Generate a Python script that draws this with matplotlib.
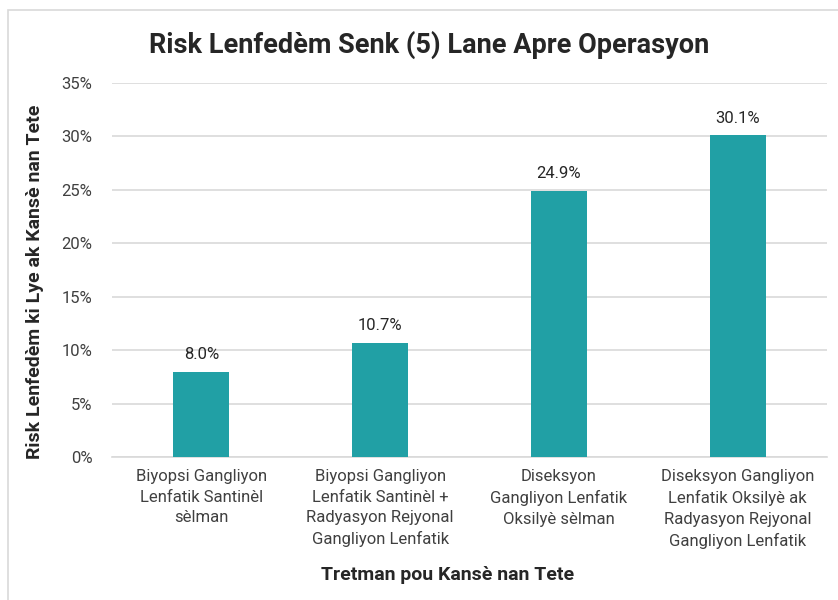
import matplotlib.pyplot as plt
from matplotlib.patches import Rectangle
from matplotlib.ticker import FuncFormatter, MultipleLocator

plt.rcParams["font.family"] = ["Roboto", "DejaVu Sans"]

categories = [
    "Biyopsi Gangliyon\nLenfatik Santinèl\nsèlman",
    "Biyopsi Gangliyon\nLenfatik Santinèl +\nRadyasyon Rejyonal\nGangliyon Lenfatik",
    "Diseksyon\nGangliyon Lenfatik\nOksilyè sèlman",
    "Diseksyon Gangliyon\nLenfatik Oksilyè ak\nRadyasyon Rejyonal\nGangliyon Lenfatik",
]
risk = [8.0, 10.7, 24.9, 30.1]

bar_color = "#21A0A5"
text_color = "#262626"

W, H = 838, 600
left, right, top, bottom = 112, 827, 83, 457
fig = plt.figure(figsize=(W / 100, H / 100), dpi=100)
ax = fig.add_axes([left / W, 1 - bottom / H, (right - left) / W, (bottom - top) / H])

xs = range(len(categories))
bars = ax.bar(xs, risk, width=0.313, color=bar_color, zorder=3)
for b, v in zip(bars, risk):
    ax.annotate(f"{v:.1f}%", (b.get_x() + b.get_width() / 2, v),
                xytext=(0, 7), textcoords="offset points",
                ha="center", va="bottom", fontsize=12, color=text_color)

ax.set_xlim(-0.5, len(categories) - 0.5)
ax.set_ylim(0, 35)
ax.yaxis.set_major_locator(MultipleLocator(5))
ax.yaxis.set_major_formatter(FuncFormatter(lambda v, _: f"{v:.0f}%"))
ax.grid(axis="y", color="#d9d9d9", linewidth=1.2, zorder=0)
for s in ["top", "right", "left"]:
    ax.spines[s].set_visible(False)
ax.spines["bottom"].set_color("#d9d9d9")
ax.spines["bottom"].set_linewidth(1.2)
ax.tick_params(axis="both", length=0, labelsize=12, labelcolor="#404040")
ax.tick_params(axis="y", pad=14)
ax.set_xticks(list(xs))
ax.set_xticklabels(categories, fontsize=12, color="#404040", linespacing=1.45)
ax.tick_params(axis="x", pad=9)

ax.set_xlabel("Tretman pou Kansè nan Tete", fontsize=14, fontweight="bold",
              color=text_color, va="center")
ax.xaxis.set_label_coords((448 - left) / (right - left), (bottom - 575) / (bottom - top))
ax.set_ylabel("Risk Lenfedèm ki Lye ak Kansè nan Tete", fontsize=14,
              fontweight="bold", color=text_color, va="center")
ax.yaxis.set_label_coords((35 - left) / (right - left), (bottom - 282) / (bottom - top))

fig.text(429 / W, 1 - 45 / H, "Risk Lenfedèm Senk (5) Lane Apre Operasyon",
         ha="center", va="center", fontsize=19.5, fontweight="bold", color=text_color)

fig.patches.append(Rectangle((8 / W, -0.01), 1.0, 1 - 10 / H + 0.01,
                             transform=fig.transFigure, fill=False,
                             edgecolor="#d9d9d9", linewidth=1.2))

fig.savefig("out.png", dpi=100)
